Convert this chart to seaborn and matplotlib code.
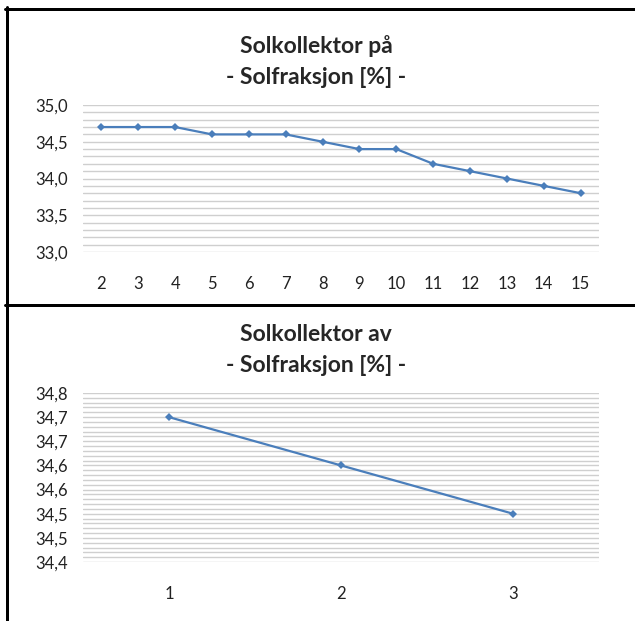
import matplotlib
matplotlib.use("Agg")
import matplotlib.pyplot as plt
import seaborn as sns
import pandas as pd
from matplotlib.ticker import MultipleLocator, FuncFormatter
from matplotlib.lines import Line2D
from decimal import Decimal, ROUND_HALF_UP

# data
on_x = [2, 3, 4, 5, 6, 7, 8, 9, 10, 11, 12, 13, 14, 15]
on_y = [34.7, 34.7, 34.7, 34.6, 34.6, 34.6, 34.5, 34.4, 34.4, 34.2, 34.1, 34.0, 33.9, 33.8]
off_x = [1, 2, 3]
off_y = [34.7, 34.6, 34.5]

title_on = "Solkollektor på\n- Solfraksjon [%] -"
title_off = "Solkollektor av\n- Solfraksjon [%] -"

LINE = "#4a7ebb"
GRID = "#cfcfcf"

sns.set_style("white")
plt.rcParams["font.family"] = ["Lato", "DejaVu Sans"]


def comma_fmt(v, pos):
    # excel style: one decimal, half up, comma as separator
    d = Decimal(f"{v:.2f}").quantize(Decimal("0.1"), rounding=ROUND_HALF_UP)
    return str(d).replace(".", ",")


def draw_panel(ax, xs, ys, title, ylim, major, minor, xlim):
    df = pd.DataFrame({"x": xs, "y": ys})
    sns.lineplot(data=df, x="x", y="y", ax=ax, color=LINE, linewidth=1.6,
                 marker="D", markersize=4.5, markeredgewidth=0)
    ax.set_ylim(*ylim)
    ax.set_xlim(*xlim)
    ax.set_xticks(xs)
    ax.yaxis.set_major_locator(MultipleLocator(major))
    ax.yaxis.set_minor_locator(MultipleLocator(minor))
    ax.yaxis.set_major_formatter(FuncFormatter(comma_fmt))
    ax.grid(True, which="both", axis="y", color=GRID, linewidth=1.0)
    ax.set_axisbelow(True)
    for s in ax.spines.values():
        s.set_visible(False)
    ax.tick_params(axis="both", which="both", length=0, labelsize=12, colors="#222222")
    ax.tick_params(axis="y", pad=11)
    ax.tick_params(axis="x", pad=17)
    ax.set_xlabel("")
    ax.set_ylabel("")
    # title sits a bit left of the plot centre, like in the source sheet
    ax.set_title(title, fontsize=16.5, fontweight="bold", pad=15, linespacing=1.6,
                 x=0.452)


fig = plt.figure(figsize=(6.35, 6.21), dpi=100)
W, H = 635.0, 621.0

ax1 = fig.add_axes([83 / W, 1 - 252 / H, 516 / W, 147 / H])
draw_panel(ax1, on_x, on_y, title_on, (33.0, 35.0), 0.5, 0.1, (1.5, 15.5))

ax2 = fig.add_axes([83 / W, 1 - 562 / H, 516 / W, 169 / H])
draw_panel(ax2, off_x, off_y, title_off, (34.4, 34.75), 0.05, 0.01, (0.5, 3.5))

# black frames around the two chart blocks
lw = 3 * 72 / 100
fig.add_artist(Line2D([5 / W, 1], [1 - 8.5 / H, 1 - 8.5 / H], color="black", linewidth=lw))
fig.add_artist(Line2D([5 / W, 1], [1 - 305 / H, 1 - 305 / H], color="black", linewidth=lw))
fig.add_artist(Line2D([6.5 / W, 6.5 / W], [1 - 7 / H, 0], color="black", linewidth=lw))

fig.savefig("out.png", dpi=100, facecolor="white")
